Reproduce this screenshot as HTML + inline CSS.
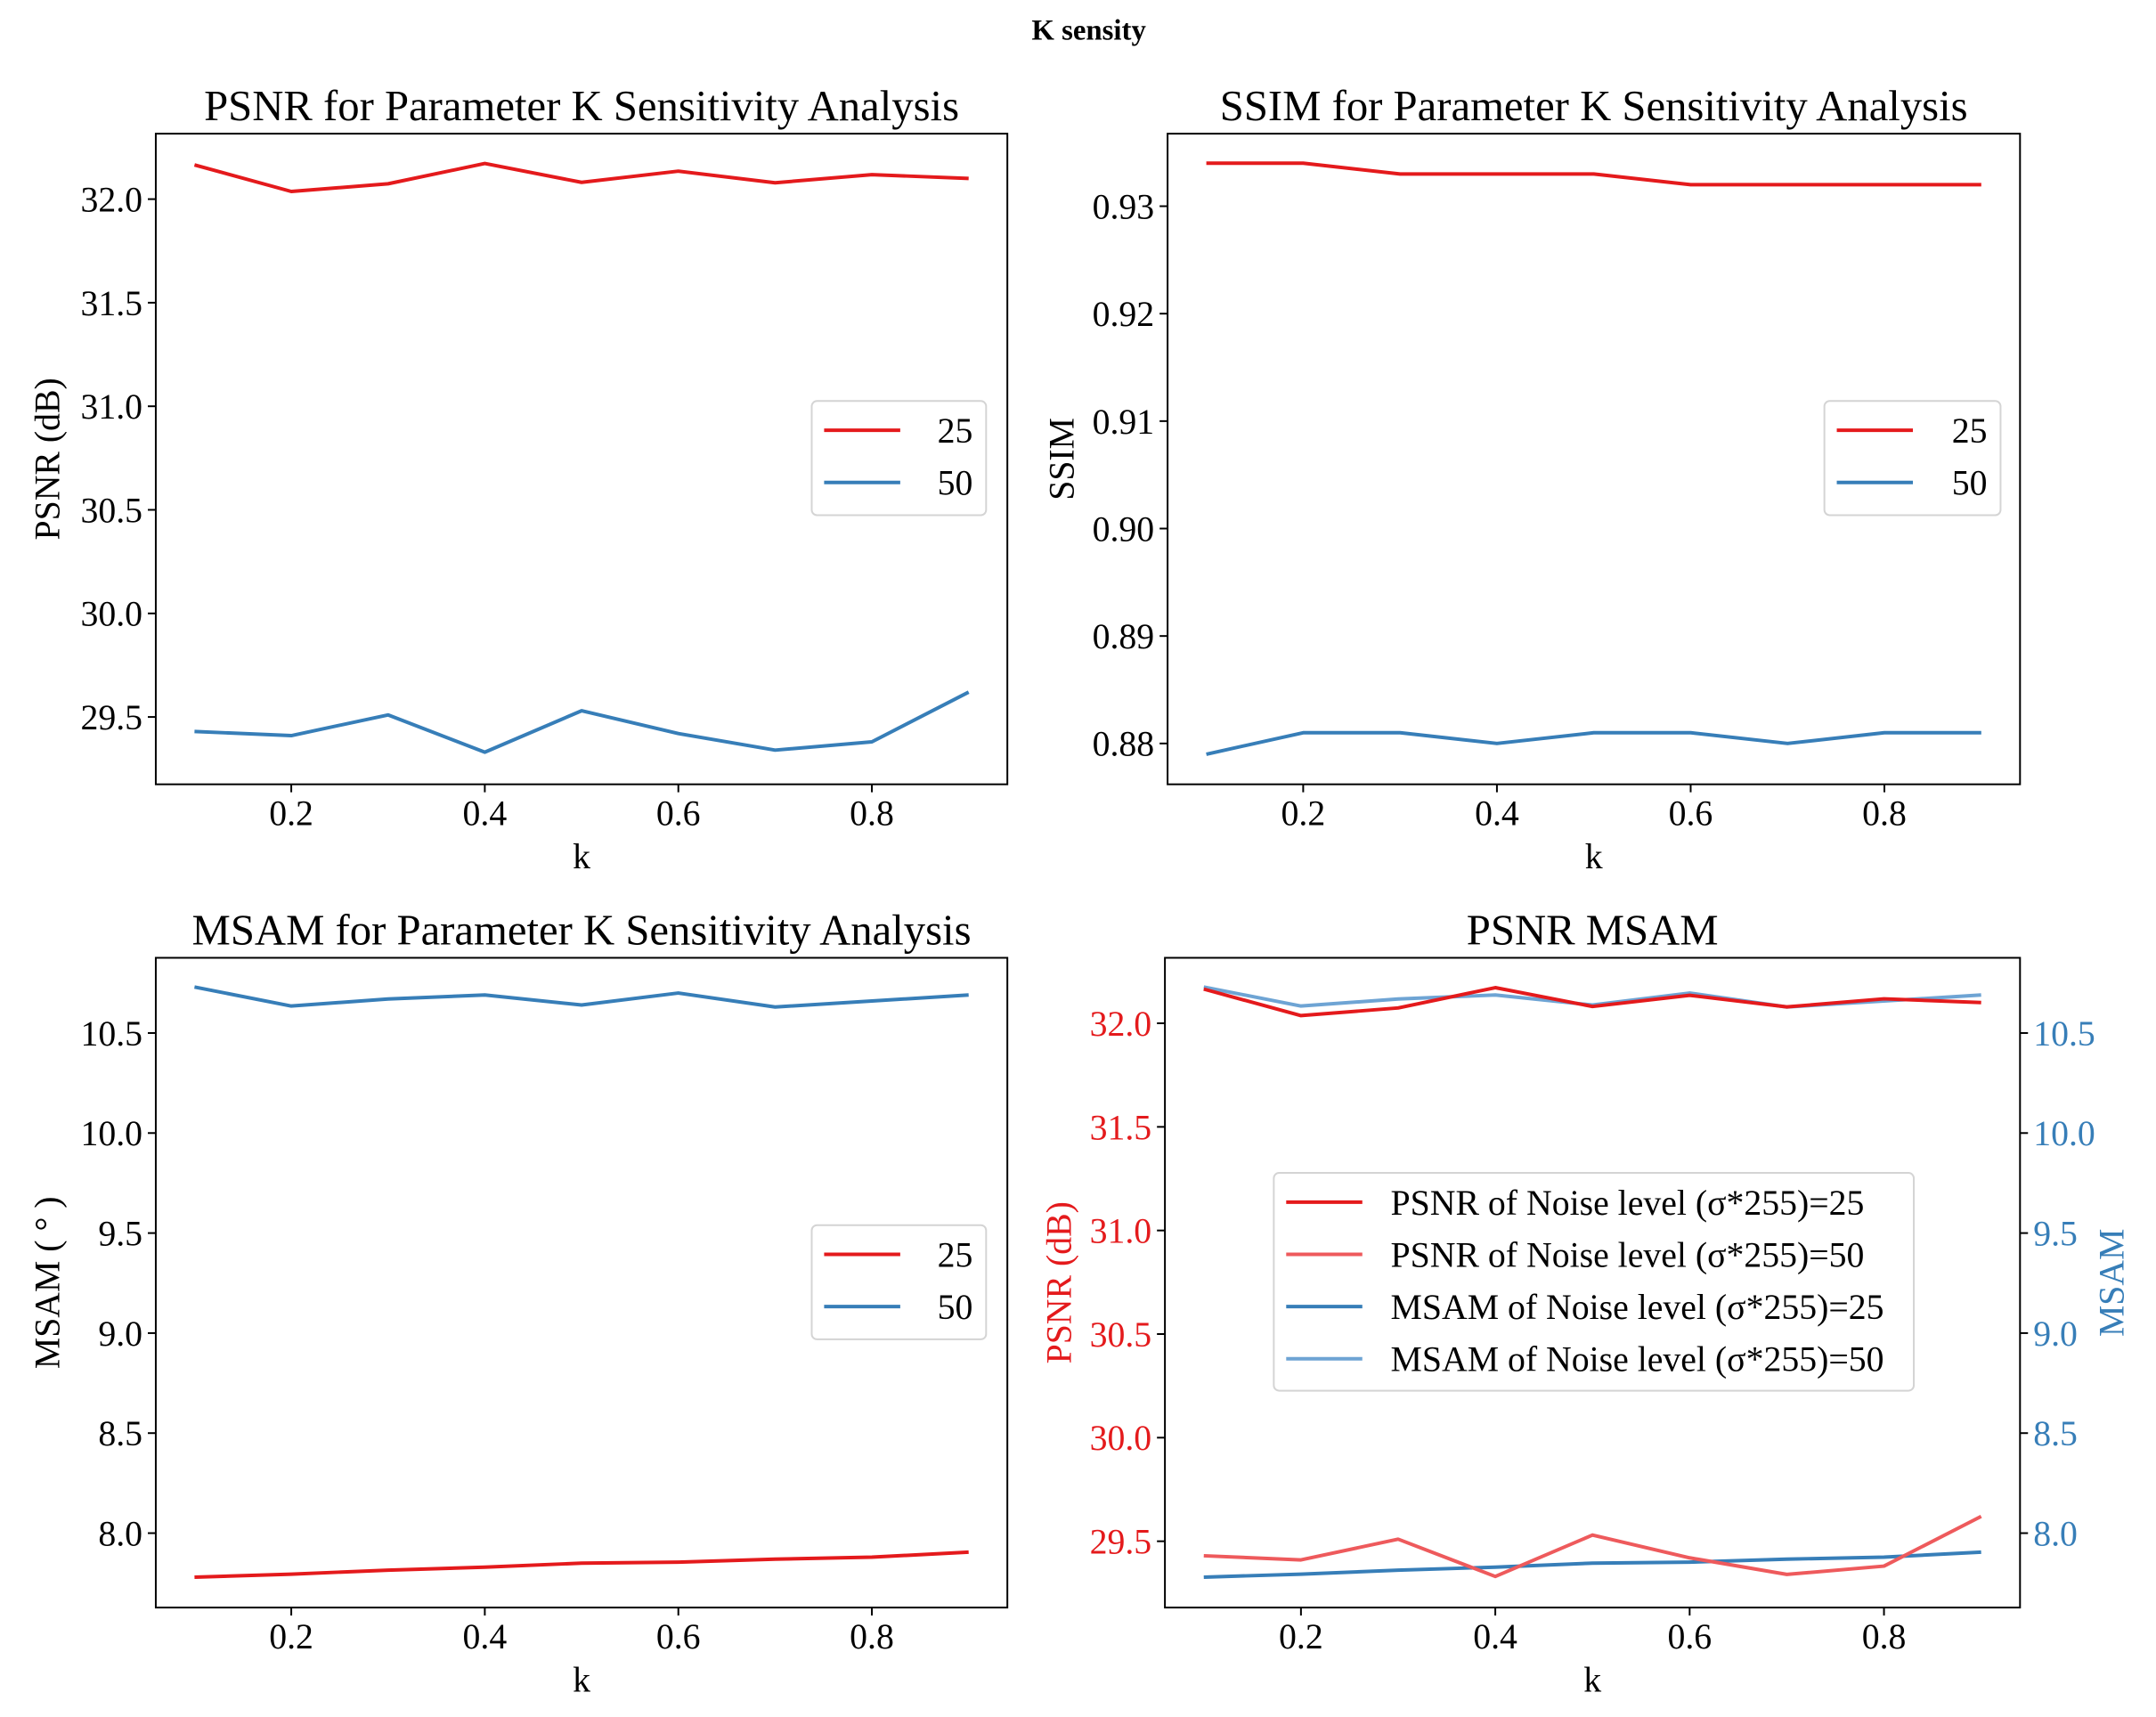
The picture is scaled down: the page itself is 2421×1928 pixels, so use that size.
<!DOCTYPE html>
<html><head><meta charset="utf-8"><style>
html,body{margin:0;padding:0;background:#fff}
svg{display:block;font-family:"Liberation Serif",serif}
</style></head><body>
<svg width="2421" height="1928" viewBox="0 0 2421 1928">
<g id="fig" transform="scale(0.994)">
<text x="1230" y="45" font-size="33" font-weight="bold" text-anchor="middle">K sensity</text>
</g>
</svg>
<script>
const kValues=[0.1,0.2,0.3,0.4,0.5,0.6,0.7,0.8,0.9];
const psnr25=[32.165,32.037,32.074,32.172,32.081,32.135,32.079,32.118,32.10];
const psnr50=[29.43,29.41,29.51,29.33,29.53,29.42,29.34,29.38,29.62];
const ssim25=[0.934,0.934,0.933,0.933,0.933,0.932,0.932,0.932,0.932];
const ssim50=[0.879,0.881,0.881,0.880,0.881,0.881,0.880,0.881,0.881];
const msam25=[7.78,7.795,7.815,7.83,7.85,7.855,7.87,7.88,7.905];
const msam50=[10.73,10.635,10.67,10.69,10.64,10.70,10.63,10.66,10.69];
const xTicks=[0.2,0.4,0.6,0.8];
const psnrTicks=[29.5,30.0,30.5,31.0,31.5,32.0];
const ssimTicks=[0.88,0.89,0.90,0.91,0.92,0.93];
const msamTicks=[8.0,8.5,9.0,9.5,10.0,10.5];

const NS='http://www.w3.org/2000/svg';
const svg=document.getElementById('fig');
const RED='#e41a1c',RED2='#ee5a5c',BLUE='#377eb8',BLUE2='#6ea4d4';
const TF=40;
function mk(tag,attrs,parent){const e=document.createElementNS(NS,tag);for(const k in attrs)e.setAttribute(k,attrs[k]);(parent||svg).appendChild(e);return e;}
function txt(s,attrs,name,parent){const e=mk('text',attrs,parent);e.textContent=s;return e;}
function lin(d0,d1,r0,r1){return v=>r0+(v-d0)/(d1-d0)*(r1-r0);}
const xmin=0.06,xmax=0.94;

function panel(o){
  const g=mk('g',{});
  
  
  const X=lin(xmin,xmax,o.x0,o.x1);
  const Y=lin(o.ylo,o.yhi,o.y1,o.y0);
  xTicks.forEach(t=>{
    const l=mk('line',{x1:X(t),x2:X(t),y1:o.y1,y2:o.y1+9,stroke:'#000','stroke-width':2},g);
    
    txt(t.toFixed(1),{x:X(t),y:o.y1+46,'font-size':TF,'text-anchor':'middle'},'x-tick-label',g);
  });
  o.yTicks.forEach(t=>{
    const l=mk('line',{x1:o.x0-9,x2:o.x0,y1:Y(t),y2:Y(t),stroke:'#000','stroke-width':2},g);
    
    txt(t.toFixed(o.dec),{x:o.x0-15,y:Y(t)+14,'font-size':TF,'text-anchor':'end',fill:o.ycolor||'#000'},'y-tick-label',g);
  });
  if(o.right){
    const R=lin(o.right.lo,o.right.hi,o.y1,o.y0);
    o.right.ticks.forEach(t=>{
      const l=mk('line',{x1:o.x1,x2:o.x1+9,y1:R(t),y2:R(t),stroke:'#000','stroke-width':2},g);
      
      txt(t.toFixed(1),{x:o.x1+15,y:R(t)+14,'font-size':TF,fill:BLUE},'y2-tick-label',g);
    });
    o.right.series.forEach(s=>{
      const p=mk('polyline',{points:kValues.map((k,i)=>X(k)+','+R(s.v[i])).join(' '),fill:'none',stroke:s.c,'stroke-width':4,'stroke-linejoin':'round'},g);
      
    });
    txt('MSAM',{x:0,y:0,'font-size':TF,fill:BLUE,'text-anchor':'middle',transform:`translate(${o.x1+117},${(o.y0+o.y1)/2}) rotate(-90)`},'y2-axis-title',g);
  }
  o.series.forEach(s=>{
    const p=mk('polyline',{points:kValues.map((k,i)=>X(k)+','+Y(s.v[i])).join(' '),fill:'none',stroke:s.c,'stroke-width':4,'stroke-linejoin':'round'},g);
    
  });
  const b=mk('rect',{x:o.x0,y:o.y0,width:o.x1-o.x0,height:o.y1-o.y0,fill:'none',stroke:'#000','stroke-width':2},g);
  
  txt(o.title,{x:(o.x0+o.x1)/2,y:o.y0-15,'font-size':49,'text-anchor':'middle'},'panel-title',g);
  txt('k',{x:(o.x0+o.x1)/2,y:o.y1+95,'font-size':TF,'text-anchor':'middle'},'x-axis-title',g);
  txt(o.ylabel,{x:0,y:0,'font-size':TF,'text-anchor':'middle',fill:o.ycolor||'#000',transform:`translate(${o.ylx},${(o.y0+o.y1)/2}) rotate(-90)`},'y-axis-title',g);
  const L=o.legend;
  const lg=mk('g',{},g);
  
  const r=mk('rect',{x:L.x,y:L.y,width:L.w,height:L.h,rx:6,fill:'#fff','fill-opacity':0.8,stroke:'#d4d4d4','stroke-width':2},lg);
  
  L.items.forEach((it,i)=>{
    const yy=L.y+33+i*59;
    const ln=mk('line',{x1:L.x+14,x2:L.x+100,y1:yy,y2:yy,stroke:it.c,'stroke-width':4},lg);
    
    if(L.align==='end') txt(it.t,{x:L.x+L.w-15,y:yy+14,'font-size':TF,'text-anchor':'end'},'legend-entry',lg);
    else txt(it.t,{x:L.x+132,y:yy+14,'font-size':TF},'legend-entry',lg);
  });
}

panel({name:'psnr-panel',x0:176,x1:1138,y0:151,y1:886,ylo:29.175,yhi:32.316,yTicks:psnrTicks,dec:1,
  title:'PSNR for Parameter K Sensitivity Analysis',ylabel:'PSNR (dB)',ylx:67,
  series:[{v:psnr25,c:RED,n:'psnr-25-line'},{v:psnr50,c:BLUE,n:'psnr-50-line'}],
  legend:{x:917,y:453,w:197,h:129,align:'end',items:[{t:'25',c:RED},{t:'50',c:BLUE}]}});
panel({name:'ssim-panel',x0:1319,x1:2282,y0:151,y1:886,ylo:0.8762,yhi:0.93675,yTicks:ssimTicks,dec:2,
  title:'SSIM for Parameter K Sensitivity Analysis',ylabel:'SSIM',ylx:1213,
  series:[{v:ssim25,c:RED,n:'ssim-25-line'},{v:ssim50,c:BLUE,n:'ssim-50-line'}],
  legend:{x:2061,y:453,w:199,h:129,align:'end',items:[{t:'25',c:RED},{t:'50',c:BLUE}]}});
panel({name:'msam-panel',x0:176,x1:1138,y0:1082,y1:1816,ylo:7.628,yhi:10.876,yTicks:msamTicks,dec:1,
  title:'MSAM for Parameter K Sensitivity Analysis',ylabel:'MSAM ( ° )',ylx:67,
  series:[{v:msam25,c:RED,n:'msam-25-line'},{v:msam50,c:BLUE,n:'msam-50-line'}],
  legend:{x:917,y:1384,w:197,h:129,align:'end',items:[{t:'25',c:RED},{t:'50',c:BLUE}]}});
panel({name:'psnr-msam-panel',x0:1316,x1:2282,y0:1082,y1:1816,ylo:29.18,yhi:32.316,yTicks:psnrTicks,dec:1,ycolor:RED,
  title:'PSNR MSAM',ylabel:'PSNR (dB)',ylx:1210,
  series:[{v:psnr25,c:RED,n:'psnr-25-line'},{v:psnr50,c:RED2,n:'psnr-50-line'}],
  right:{lo:7.628,hi:10.876,ticks:msamTicks,series:[{v:msam25,c:BLUE,n:'msam-25-line'},{v:msam50,c:BLUE2,n:'msam-50-line'}]},
  legend:{x:1439,y:1325,w:723,h:246,align:'start',items:[
    {t:'PSNR of Noise level (σ*255)=25',c:RED},{t:'PSNR of Noise level (σ*255)=50',c:RED2},
    {t:'MSAM of Noise level (σ*255)=25',c:BLUE},{t:'MSAM of Noise level (σ*255)=50',c:BLUE2}]}});
</script>
</body></html>
